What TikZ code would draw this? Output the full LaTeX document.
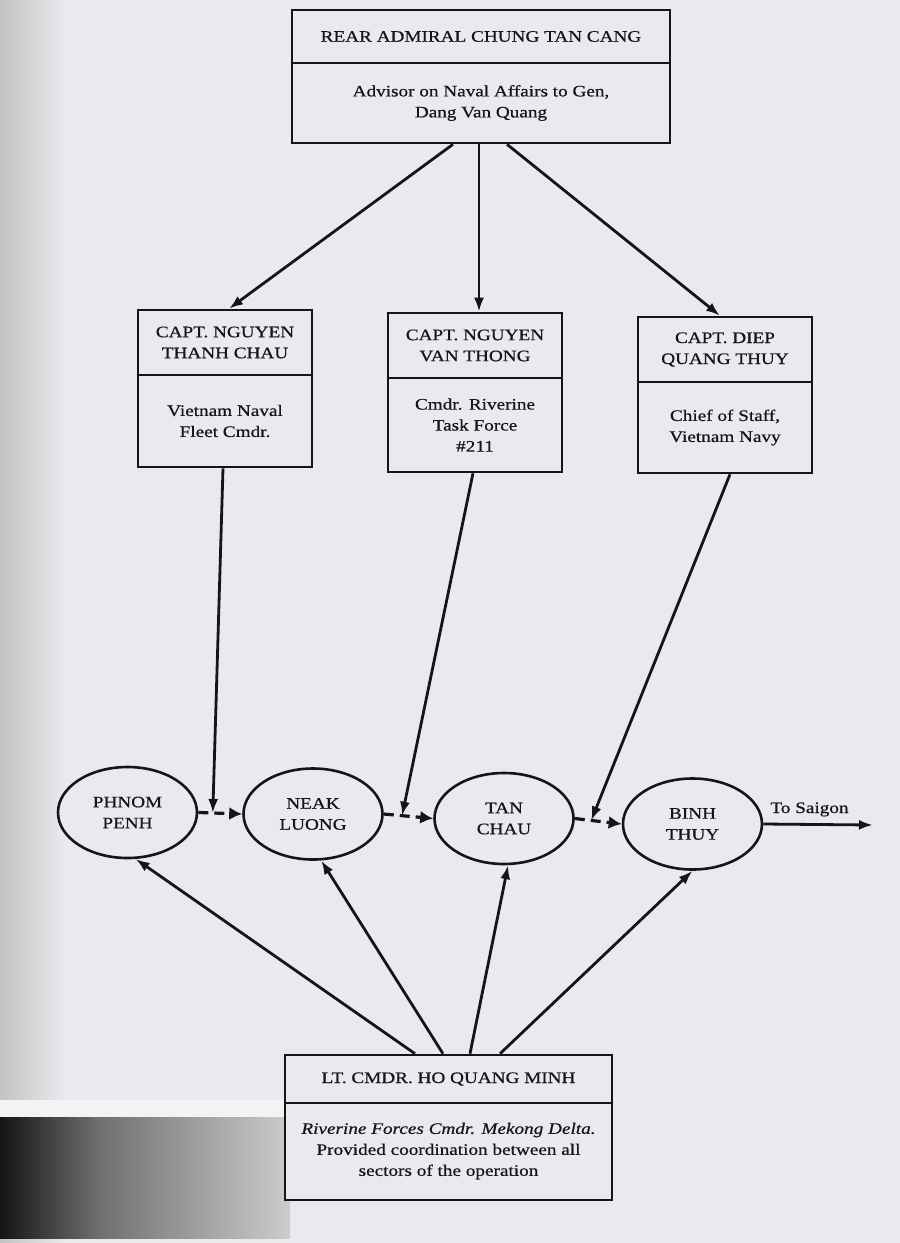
\documentclass[tikz,border=0pt]{standalone}
\usepackage{fontspec}
\setmainfont{Liberation Serif}[FakeStretch=1.2,FakeBold=0.6]
\usetikzlibrary{shapes.geometric,arrows.meta,calc}
\definecolor{paper}{RGB}{235,233,238}
\definecolor{ink}{RGB}{22,20,24}
\begin{document}
\begin{tikzpicture}[x=0.5pt,y=-0.5pt,
  box/.style={draw=ink,line width=1.3pt,fill=paper,inner sep=0pt},
  txt/.style={text=ink,align=center,inner sep=0pt,font=\fontsize{8}{10.5}\selectfont},
  place/.style={ellipse,draw=ink,line width=1.3pt,fill=paper,inner sep=0pt,
    minimum width=69.5pt,minimum height=45.5pt,align=center,text=ink,
    font=\fontsize{8}{10.5}\selectfont},
  divider/.style={draw=ink,line width=1.3pt},
  link/.style={draw=ink,line width=1.4pt,-{Latex[length=7pt,width=5pt]}},
  flow/.style={draw=ink,line width=1.6pt,dash pattern=on 5pt off 3pt,-{Latex[length=6.5pt,width=6.5pt]}}]
% paper
\useasboundingbox (0,0) rectangle (900,1243);
\fill[paper] (0,0) rectangle (900,1243);
\shade[left color=black!24,right color=paper] (0,0) rectangle (65,1243);
\fill[paper!60!white] (0,1100) rectangle (300,1117);
\shade[left color=black!92,right color=black!56] (0,1117) rectangle (100,1238);
\shade[left color=black!56,right color=black!20] (100,1117) rectangle (290,1238);

% top box
\node[box,minimum width=189pt,minimum height=66.5pt] (top) at (481,76.5) {};
\draw[divider] (top.west |- 0,63) -- (top.east |- 0,63);
\node[txt] (toph) at (481,36.5) {REAR ADMIRAL CHUNG TAN CANG};
\node[txt] (topb) at (481,103) {Advisor on Naval Affairs to Gen,\\Dang Van Quang};

% middle boxes
\node[box,minimum width=87pt,minimum height=78.5pt] (lb) at (225,388.5) {};
\draw[divider] (lb.west |- 0,375) -- (lb.east |- 0,375);
\node[txt] (lbh) at (225,342.5) {CAPT. NGUYEN\\THANH CHAU};
\node[txt] (lbb) at (225,421) {Vietnam Naval\\Fleet Cmdr.};

\node[box,minimum width=87pt,minimum height=79.5pt] (cb) at (475,392.5) {};
\draw[divider] (cb.west |- 0,378) -- (cb.east |- 0,378);
\node[txt] (cbh) at (475,345.5) {CAPT. NGUYEN\\VAN THONG};
\node[txt] (cbb) at (475,425) {Cmdr. Riverine\\Task Force\\\#211};

\node[box,minimum width=87pt,minimum height=78pt] (rb) at (725,395) {};
\draw[divider] (rb.west |- 0,382) -- (rb.east |- 0,382);
\node[txt] (rbh) at (725,349.5) {CAPT. DIEP\\QUANG THUY};
\node[txt] (rbb) at (725,427.5) {Chief of Staff,\\Vietnam Navy};

% bottom box
\node[box,minimum width=163.5pt,minimum height=72.5pt] (bb) at (448.5,1127.5) {};
\draw[divider] (bb.west |- 0,1103) -- (bb.east |- 0,1103);
\node[txt] (bbh) at (448.5,1079) {LT. CMDR. HO QUANG MINH};
\node[txt] (bbb) at (448.5,1151) {\textit{Riverine Forces Cmdr. Mekong Delta.}\\Provided coordination between all\\sectors of the operation};

% places
\node[place] (pp) at (127.5,812.5) {PHNOM\\PENH};
\node[place] (nl) at (313,814) {NEAK\\LUONG};
\node[place] (tc) at (504,818.5) {TAN\\CHAU};
\node[place] (bt) at (692.5,824) {BINH\\THUY};

% top links
\draw[link] ($(top.south)+(-28,0)$) -- ($(lb.north)+(4,0)$);
\draw[link] ($(top.south)+(-2,0)$) -- ($(cb.north)+(4,0)$);
\draw[link] ($(top.south)+(26,0)$) -- ($(rb.north)+(-5,0)$);

% flow along the river
\coordinate (j1) at ($(pp.east)!0.33!(nl.west)$);
\coordinate (j2) at ($(nl.east)!0.37!(tc.west)$);
\coordinate (j3) at ($(tc.east)!0.35!(bt.west)$);
\draw[flow] (pp.east) -- (nl.west);
\draw[flow] (nl.east) -- (tc.west);
\draw[flow] (tc.east) -- (bt.west);
\draw[link] ($(lb.south)+(-2,0)$) -- (j1);
\draw[link] ($(cb.south)+(-2,0)$) -- (j2);
\draw[link] ($(rb.south)+(5,0)$) -- (j3);

% to Saigon
\coordinate (sg) at (873,825);
\draw[link] (bt.east) -- (sg);
\node[txt,anchor=base] (tosaigon) at (809.5,813) {To Saigon};

% bottom links
\draw[link] ($(bb.north)+(-33.5,0)$) -- (pp.-80);
\draw[link] ($(bb.north)+(-5.5,0)$) -- (nl.-80);
\draw[link] ($(bb.north)+(21.5,0)$) -- (tc.-85);
\draw[link] ($(bb.north)+(51.5,0)$) -- (bt.south);
\end{tikzpicture}
\end{document}
